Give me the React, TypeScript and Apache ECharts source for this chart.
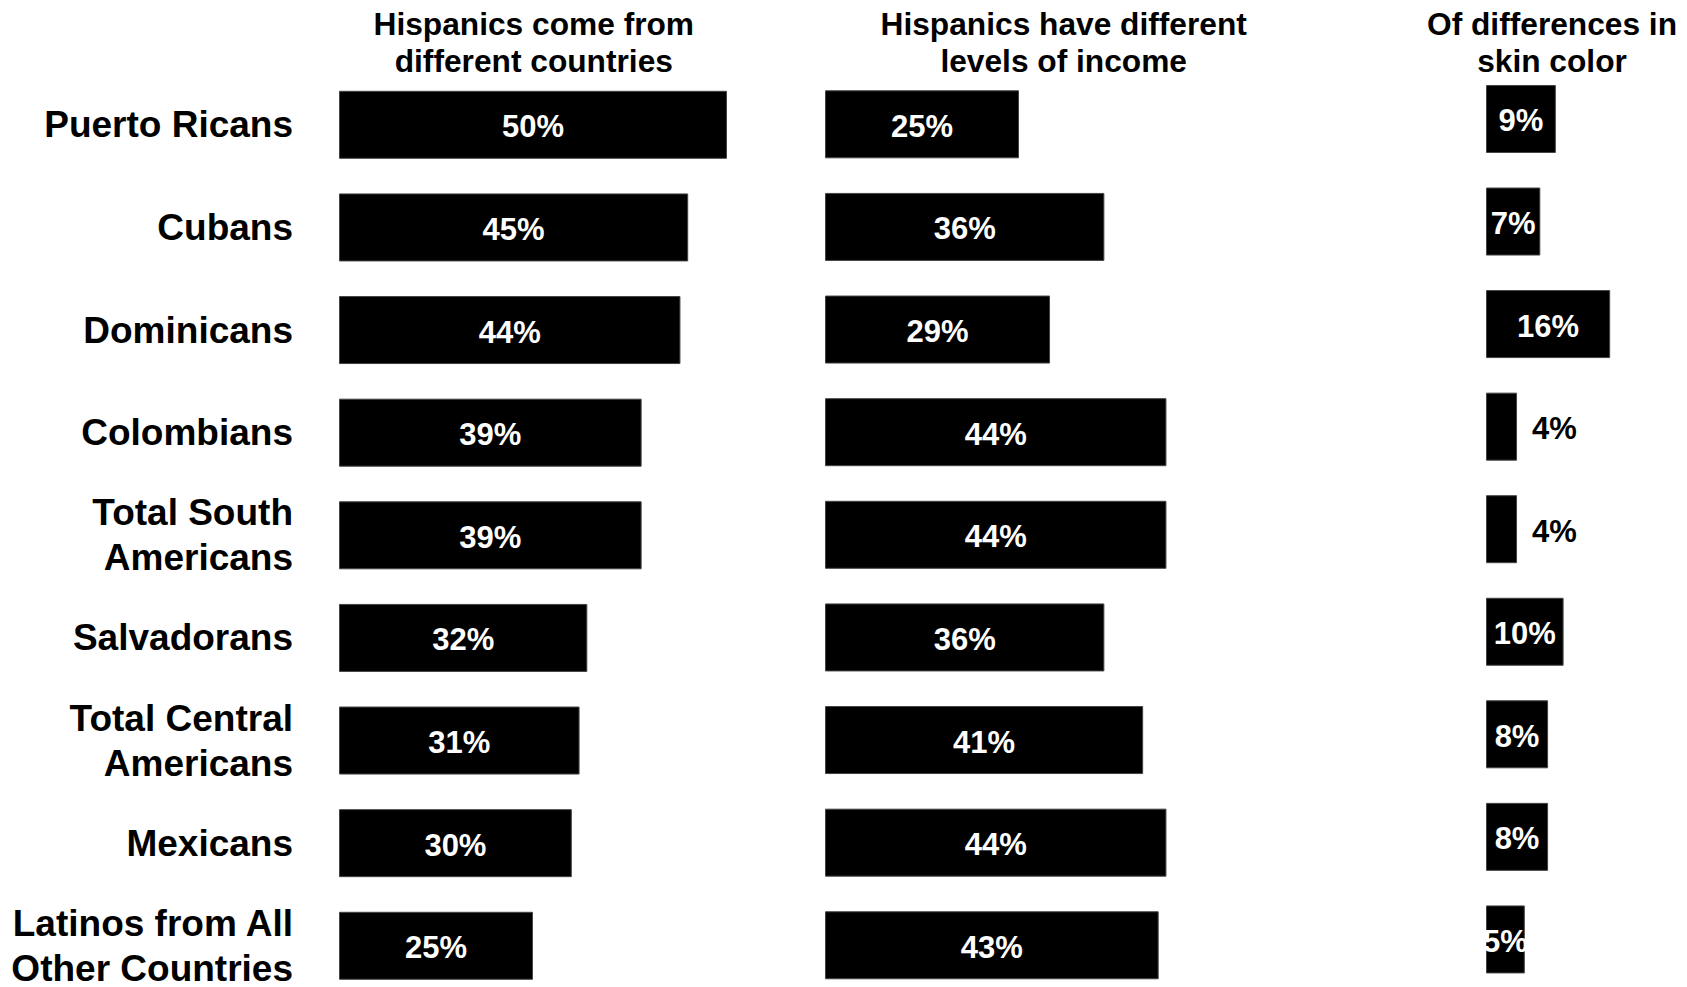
import React, { useEffect, useRef } from "react";
import * as echarts from "echarts";

const categories = [
  "Puerto Ricans",
  "Cubans",
  "Dominicans",
  "Colombians",
  "Total South\nAmericans",
  "Salvadorans",
  "Total Central\nAmericans",
  "Mexicans",
  "Latinos from All\nOther Countries",
];
const countriesValues = [50, 45, 44, 39, 39, 32, 31, 30, 25];
const incomeValues = [25, 36, 29, 44, 44, 36, 41, 44, 43];
const skinValues = [9, 7, 16, 4, 4, 10, 8, 8, 5];
const panelTitles = [
  "Hispanics come from\ndifferent countries",
  "Hispanics have different\nlevels of income",
  "Of differences in\nskin color",
];

const FONT = "'Liberation Sans', Arial, sans-serif";
const PX_PER_PCT = 7.76;

export default function App() {
  const ref = useRef<HTMLDivElement>(null);
  useEffect(() => {
    if (!ref.current) return;
    const chart = echarts.init(ref.current, undefined, { renderer: "svg" });

    const grids = [
      { left: 339, top: 73.5, width: 60 * PX_PER_PCT, height: 923.6, max: 60 },
      { left: 825, top: 73, width: 60 * PX_PER_PCT, height: 923.6, max: 60 },
      { left: 1486, top: 67.7, width: 25 * PX_PER_PCT, height: 923, max: 25 },
    ];
    const seriesData = [countriesValues, incomeValues, skinValues];
    const titleCenters = [528.8, 1058.7, 1547];

    const makeData = (vals: number[]) =>
      vals.map((v) => {
        if (v < 5) {
          return {
            value: v,
            label: { position: "right", color: "#000", distance: 15 },
          };
        }
        return { value: v };
      });

    const option: any = {
      animation: false,
      backgroundColor: "#fff",
      title: panelTitles.map((t, i) => ({
        text: t,
        left: titleCenters[i],
        top: 0,
        textAlign: "center",
        textStyle: {
          fontFamily: FONT,
          fontWeight: "bold",
          fontSize: 31.7,
          lineHeight: 37.6,
          color: "#000",
        },
      })),
      grid: grids.map((g) => ({
        left: g.left,
        top: g.top,
        width: g.width,
        height: g.height,
        containLabel: false,
        outerBoundsMode: "none",
      })),
      xAxis: grids.map((g, i) => ({
        type: "value",
        gridIndex: i,
        min: 0,
        max: g.max,
        show: false,
      })),
      yAxis: grids.map((g, i) => ({
        type: "category",
        gridIndex: i,
        data: categories,
        inverse: true,
        axisLine: { show: false },
        axisTick: { show: false },
        splitLine: { show: false },
        axisLabel: {
          show: i === 0,
          interval: 0,
          margin: 46,
          fontFamily: FONT,
          fontWeight: "bold",
          fontSize: 37,
          lineHeight: 45,
          color: "#000",
          align: "right",
        },
      })),
      series: seriesData.map((vals, i) => ({
        type: "bar",
        xAxisIndex: i,
        yAxisIndex: i,
        data: makeData(vals),
        barWidth: 68,
        itemStyle: { color: "#000", borderColor: "#444", borderWidth: 1 },
        label: {
          show: true,
          position: "inside",
          formatter: "{c}%",
          color: "#fff",
          fontFamily: FONT,
          fontWeight: "bold",
          fontSize: 31,
          offset: [0, 2],
        },
      })),
    };
    chart.setOption(option);
    return () => chart.dispose();
  }, []);

  return (
    <div
      ref={ref}
      style={{ position: "absolute", left: 0, top: 0, width: 1687, height: 987 }}
    />
  );
}
